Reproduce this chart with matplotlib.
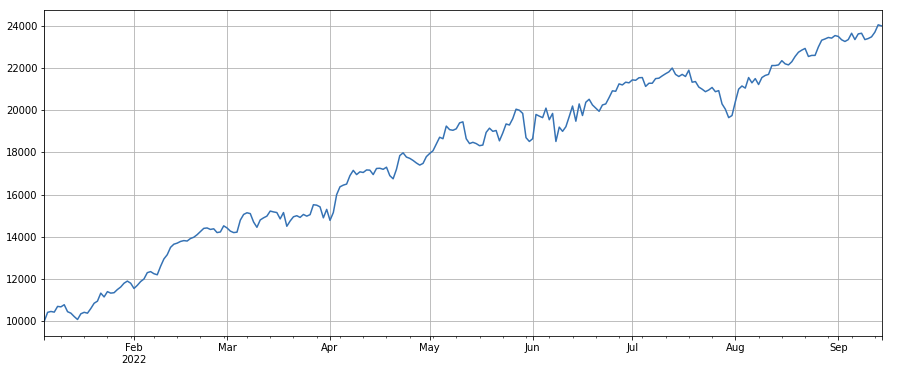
import matplotlib
matplotlib.use('Agg')
import matplotlib.pyplot as plt
import pandas as pd

start_date = '2022-01-05'
values = [
    10000, 10420, 10460, 10430, 10700, 10680, 10780, 10450, 10380, 10220,
    10080, 10350, 10420, 10380, 10600, 10850, 10950, 11330, 11150, 11400,
    11330, 11350, 11500, 11620, 11800, 11900, 11800, 11550, 11700, 11880,
    12000, 12300, 12350, 12250, 12200, 12600, 12950, 13150, 13500, 13650,
    13700, 13780, 13820, 13800, 13920, 13980, 14100, 14250, 14400, 14420,
    14350, 14380, 14200, 14230, 14520, 14420, 14270, 14200, 14220, 14790,
    15060, 15140, 15100, 14700, 14450, 14800, 14900, 14980, 15220, 15180,
    15150, 14850, 15150, 14500, 14750, 14950, 15000, 14920, 15060, 14980,
    15050, 15520, 15500, 15420, 14900, 15300, 14780, 15150, 16000, 16370,
    16450, 16500, 16900, 17150, 16950, 17080, 17050, 17170, 17160, 16950,
    17240, 17250, 17200, 17300, 16900, 16750, 17200, 17850, 17980, 17780,
    17720, 17620, 17500, 17400, 17480, 17800, 17950, 18080, 18400, 18720,
    18650, 19250, 19080, 19050, 19120, 19400, 19450, 18650, 18420, 18480,
    18420, 18320, 18350, 18950, 19150, 19000, 19040, 18550, 18920, 19350,
    19300, 19600, 20050, 20000, 19850, 18700, 18520, 18650, 19800, 19720,
    19650, 20100, 19550, 19850, 18520, 19200, 19000, 19220, 19700, 20200,
    19480, 20300, 19750, 20380, 20520, 20250, 20100, 19950, 20250, 20300,
    20600, 20920, 20900, 21250, 21200, 21330, 21300, 21440, 21420, 21540,
    21550, 21130, 21280, 21280, 21500, 21520, 21630, 21730, 21820, 22000,
    21700, 21600, 21700, 21600, 21900, 21330, 21360, 21100, 21000, 20880,
    20960, 21080, 20880, 20930, 20300, 20050, 19650, 19750, 20400, 21000,
    21150, 21050, 21550, 21300, 21500, 21220, 21550, 21650, 21700, 22120,
    22120, 22150, 22350, 22200, 22150, 22300, 22550, 22750, 22850, 22930,
    22550, 22600, 22600, 23000, 23320, 23380, 23450, 23420, 23540, 23500,
    23340, 23260, 23350, 23650, 23350, 23620, 23650, 23350, 23400, 23480,
    23700, 24050, 24000,
]

dates = pd.date_range(start_date, periods=len(values), freq='D')
series = pd.Series(values, index=dates)

W, H, DPI = 919, 370, 72
fig = plt.figure(figsize=(W / DPI, H / DPI), dpi=DPI)
ax = fig.add_axes([44.3 / W, (H - 336) / H, (881.5 - 44.3) / W, (336 - 10) / H])
series.plot(ax=ax, color='#3572b4', linewidth=1.5)
ax.grid(True, color='#b0b0b0', linewidth=0.8)
fig.savefig('out.png', dpi=DPI)
